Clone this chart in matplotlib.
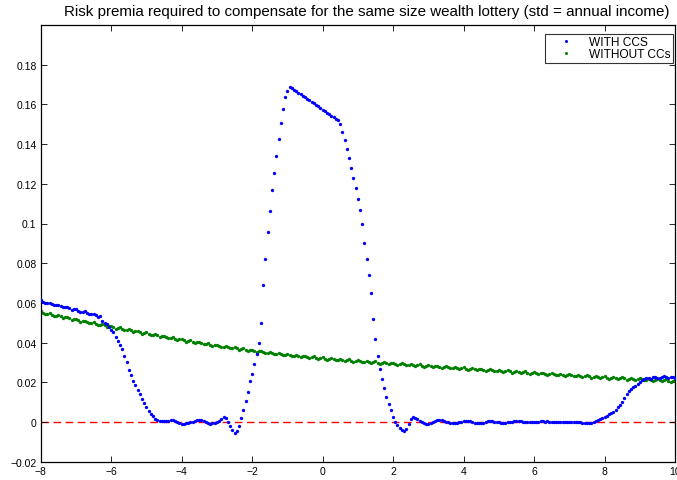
import numpy as np
import matplotlib
matplotlib.use("Agg")
import matplotlib.pyplot as plt

# ---- data (values in units of 1e-4) ----
x_start, x_stop, n_pts = -8.0, 10.0, 289

with_ccs = [
    614, 607, 600, 601, 602, 596, 589, 590, 591, 584, 577, 578, 580, 573, 566, 567,
    568, 561, 554, 555, 557, 550, 543, 544, 545, 538, 531, 532, 508, 500, 493, 478,
    463, 452, 428, 406, 390, 370, 335, 300, 263, 235, 206, 185, 162, 140, 117, 95,
    76, 56, 40, 28, 17, 10, 6, 4, 5, 3, 4, 8, 10, 7, 2, -4,
    -8, -8, -6, -3, -1, 2, 6, 10, 12, 10, 6, 0, -6, -8, -7, -4,
    1, 7, 16, 26, 18, 0, -22, -42, -53, -45, -18, 20, 62, 105, 150, 205,
    240, 290, 345, 400, 500, 690, 820, 955, 1065, 1170, 1255, 1340, 1425, 1505, 1575, 1635,
    1668, 1690, 1682, 1674, 1667, 1659, 1651, 1643, 1636, 1628, 1620, 1613, 1605, 1597, 1590, 1582,
    1574, 1566, 1559, 1551, 1543, 1536, 1528, 1519, 1500, 1462, 1419, 1375, 1328, 1278, 1228, 1178,
    1125, 1068, 1000, 900, 820, 740, 650, 520, 420, 335, 265, 215, 172, 128, 90, 58,
    25, 2, -14, -28, -40, -44, -36, -10, 14, 24, 22, 14, 6, 0, -6, -10,
    -9, -5, 0, 6, 10, 12, 10, 6, 2, -2, -5, -7, -7, -5, -2, 2,
    5, 7, 6, 3, 0, -3, -6, -7, -6, -3, 0, 3, 4, 4, 2, 0,
    -2, -3, -3, -3, -2, 0, 2, 3, 4, 4, 3, 1, 0, -1, -2, -2,
    -1, 1, 2, 3, 3, 2, 3, 1, 0, -1, -1, 0, 0, 1, 2, 1,
    0, 2, 1, -1, 1, -2, -3, -5, -3, -5, -3, 0, 5, 10, 16, 20,
    24, 30, 38, 45, 52, 62, 75, 85, 100, 122, 140, 155, 168, 176, 183, 193,
    202, 210, 215, 220, 224, 219, 225, 229, 224, 222, 229, 231, 225, 221, 227, 228,
    222,
]

without_ccs = [
    558, 551, 543, 546, 549, 541, 534, 536, 539, 532, 524, 527, 530, 522, 515, 517,
    520, 513, 506, 508, 511, 504, 497, 500, 503, 495, 488, 491, 494, 487, 479, 482,
    485, 478, 471, 474, 477, 469, 462, 465, 468, 461, 454, 457, 460, 452, 445, 448,
    451, 444, 437, 440, 443, 436, 429, 432, 435, 428, 421, 424, 427, 420, 413, 416,
    419, 412, 405, 409, 412, 405, 398, 401, 405, 398, 391, 394, 397, 390, 384, 387,
    390, 383, 377, 380, 384, 377, 371, 374, 378, 371, 364, 368, 371, 365, 358, 362,
    365, 359, 352, 356, 360, 353, 347, 350, 354, 348, 341, 345, 349, 342, 336, 339,
    343, 337, 331, 335, 339, 332, 326, 330, 334, 328, 322, 326, 330, 323, 317, 321,
    325, 319, 313, 317, 322, 316, 310, 314, 318, 312, 306, 310, 315, 309, 303, 307,
    311, 305, 300, 304, 308, 302, 297, 301, 305, 299, 294, 298, 302, 296, 291, 295,
    299, 293, 288, 292, 296, 290, 285, 289, 293, 287, 282, 286, 290, 284, 279, 283,
    287, 281, 276, 280, 284, 278, 273, 277, 281, 275, 270, 274, 278, 272, 267, 271,
    275, 269, 264, 268, 272, 266, 261, 265, 269, 263, 258, 262, 266, 260, 255, 259,
    263, 257, 252, 256, 260, 255, 249, 253, 258, 252, 246, 250, 255, 249, 243, 248,
    252, 246, 241, 245, 249, 244, 238, 242, 247, 241, 235, 239, 244, 238, 232, 237,
    241, 235, 230, 234, 238, 233, 227, 231, 236, 230, 224, 228, 233, 227, 221, 226,
    230, 224, 219, 223, 228, 222, 217, 221, 226, 220, 214, 219, 223, 218, 212, 217,
    221, 215, 210, 214, 219, 213, 208, 212, 217, 211, 206, 210, 215, 209, 204, 208,
    213,
]

series_labels = ["WITH CCS", "WITHOUT CCs"]
x_ticks = [-8, -6, -4, -2, 0, 2, 4, 6, 8, 10]
x_tick_labels = ["\u22128", "\u22126", "\u22124", "\u22122", "0", "2", "4", "6", "8", "10"]
y_ticks = [-0.02, 0, 0.02, 0.04, 0.06, 0.08, 0.1, 0.12, 0.14, 0.16, 0.18]
y_tick_labels = ["\u22120.02", "0", "0.02", "0.04", "0.06", "0.08", "0.1", "0.12", "0.14", "0.16", "0.18"]
title = "Risk premia required to compensate for the same size wealth lottery (std = annual income)"

# ---- plot ----
plt.rcParams["font.family"] = ["Liberation Sans", "DejaVu Sans"]

x = np.linspace(x_start, x_stop, n_pts)
y_with = np.array(with_ccs) * 1e-4
y_without = np.array(without_ccs) * 1e-4

fig = plt.figure(figsize=(6.77, 4.81), dpi=100)
W, H = 677.0, 481.0
ax_l, ax_r, ax_t, ax_b = 40.7, 675.0, 26.0, 462.7
ax = fig.add_axes([ax_l / W, 1 - ax_b / H, (ax_r - ax_l) / W, (ax_b - ax_t) / H])

ax.axhline(0, color="red", lw=1.0, dashes=(5.5, 3.2), zorder=1)
ax.plot(x, y_with, linestyle="none", marker="o", ms=2.4, mew=0, color="#0000ff",
        label=series_labels[0], zorder=3)
ax.plot(x, y_without, linestyle="none", marker="o", ms=2.4, mew=0, color="#008000",
        label=series_labels[1], zorder=2)

ax.set_xlim(-8, 10)
ax.set_ylim(-0.02, 0.2)
ax.set_xticks(x_ticks)
ax.set_xticklabels(x_tick_labels)
ax.set_yticks(y_ticks)
ax.set_yticklabels(y_tick_labels)
ax.tick_params(direction="in", length=4, width=0.6, top=True, right=True,
               labelsize=7.5, pad=3, colors="black")
for s in ax.spines.values():
    s.set_linewidth(0.9)

leg = ax.legend(loc="upper right", bbox_to_anchor=(1 - 2.0 / (ax_r - ax_l), 1 - 8.5 / (ax_b - ax_t)),
                borderaxespad=0, fontsize=8.6, frameon=True, fancybox=False, numpoints=1,
                handlelength=3.1, handletextpad=0.3, borderpad=0.25, labelspacing=0.0,
                markerscale=0.9)
leg.get_frame().set_edgecolor("black")
leg.get_frame().set_linewidth(0.8)

fig.text(367 / W, 1 - 12 / H, title, ha="center", va="center", fontsize=10.9)

fig.savefig("out.png", dpi=100)
